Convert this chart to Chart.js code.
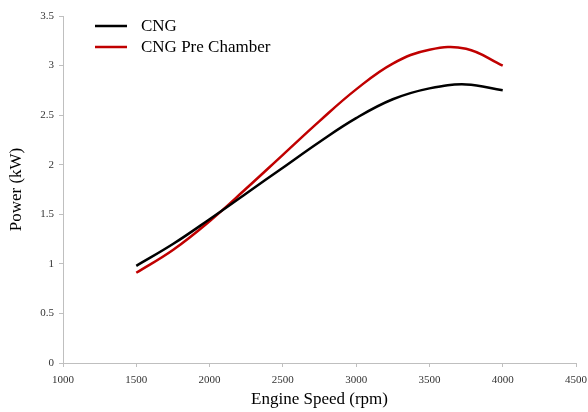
<!DOCTYPE html>
<html>
<head>
<meta charset="utf-8">
<script src="https://cdn.jsdelivr.net/npm/chart.js@4/dist/chart.umd.min.js"></script>
<style>
  html, body { margin:0; padding:0; background:#fff; }
  #wrap { width:588px; height:412px; }
</style>
</head>
<body>
<div id="wrap"><canvas id="chart" width="588" height="412"></canvas></div>
<script>
// =====================
// DATA
// =====================
const speeds = [1500, 1750, 2000, 2250, 2500, 2750, 3000, 3250, 3500, 3750, 4000]
const powerCNG = [0.98, 1.20, 1.45, 1.71, 1.97, 2.23, 2.47, 2.66, 2.77, 2.81, 2.75]
const powerPreChamber = [0.91, 1.14, 1.43, 1.76, 2.10, 2.44, 2.76, 3.02, 3.16, 3.17, 3.0]
const seriesNames = ["CNG", "CNG Pre Chamber"]
const seriesColors = ["#000000", "#c00000"]

const serif = "'Liberation Serif', 'Times New Roman', serif"

function toPoints(ys){
  return speeds.map((x, i) => ({x, y: ys[i]}))
}

// =====================
// LEGEND INSIDE PLOT
// =====================
const insideLegend = {
  id: "insideLegend",
  afterDraw(chart){
    const ctx = chart.ctx
    ctx.save()
    ctx.font = "17px " + serif
    ctx.textBaseline = "middle"
    chart.data.datasets.forEach((ds, i) => {
      let y = 26 + i * 21
      ctx.strokeStyle = ds.borderColor
      ctx.lineWidth = 2.5
      ctx.beginPath()
      ctx.moveTo(95, y)
      ctx.lineTo(127, y)
      ctx.stroke()
      ctx.fillStyle = "#000"
      ctx.fillText(ds.label, 141, y + 1)
    })
    ctx.restore()
  }
}

new Chart(document.getElementById("chart"), {
  type: "line",
  data: {
    datasets: [
      { label: seriesNames[0], data: toPoints(powerCNG), borderColor: seriesColors[0] },
      { label: seriesNames[1], data: toPoints(powerPreChamber), borderColor: seriesColors[1] }
    ]
  },
  options: {
    responsive: false,
    animation: false,
    layout: { padding: { top: 16, right: 0, left: 0, bottom: 0 } },
    elements: {
      line: { borderWidth: 2.5, tension: 0.4, fill: false },
      point: { radius: 0 }
    },
    plugins: { legend: { display: false }, tooltip: { enabled: false } },
    scales: {
      x: {
        type: "linear",
        min: 1000, max: 4500,
        ticks: { stepSize: 500, color: "#333", font: { family: serif, size: 11 }, padding: 7, maxRotation: 0,
                 callback: v => String(v) },
        grid: { drawOnChartArea: false, drawTicks: true, tickLength: 4, color: "#bfbfbf" },
        border: { color: "#bfbfbf", width: 1 },
        title: { display: true, text: "Engine Speed (rpm)", color: "#000", font: { family: serif, size: 17 }, padding: { top: 2, bottom: 2 } },
        afterFit(scale){ scale.height = 49; scale.paddingRight = 12 }
      },
      y: {
        min: 0, max: 3.5,
        ticks: { stepSize: 0.5, color: "#333", font: { family: serif, size: 11 }, padding: 5,
                 callback: v => String(v) },
        grid: { drawOnChartArea: false, drawTicks: true, tickLength: 4, color: "#bfbfbf" },
        border: { color: "#bfbfbf", width: 1 },
        title: { display: true, text: "Power (kW)", color: "#000", font: { family: serif, size: 17 }, padding: { top: 6, bottom: 8 } },
        afterFit(scale){ scale.width = 63 }
      }
    }
  },
  plugins: [insideLegend]
})
</script>
</body>
</html>
